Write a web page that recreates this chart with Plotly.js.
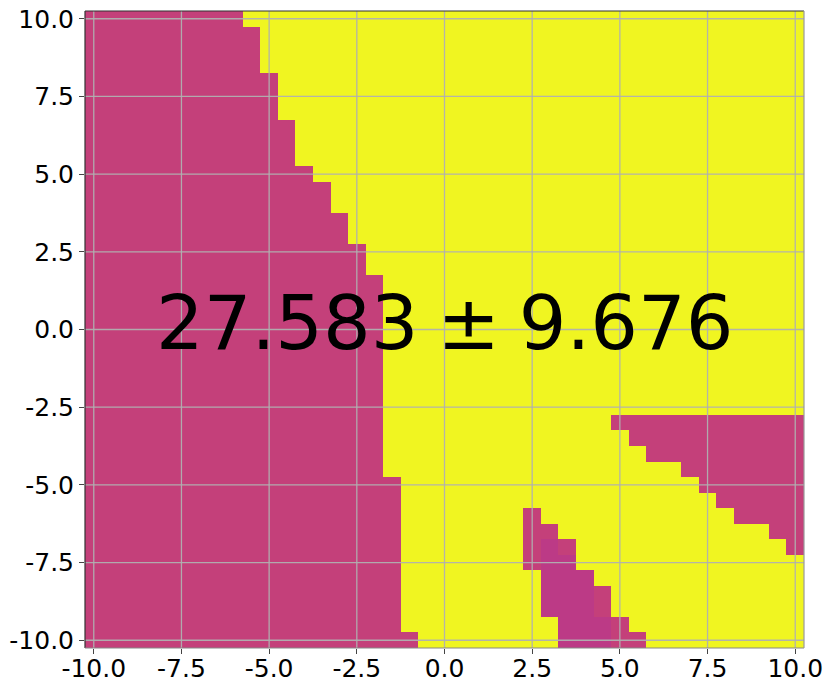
<!DOCTYPE html>
<html>
<head>
<meta charset="utf-8">
<script src="https://cdn.plot.ly/plotly-3.0.1.min.js"></script>
<style>html,body{margin:0;padding:0;background:#fff;}#chart{width:830px;height:690px;}</style>
</head>
<body>
<div id="chart"></div>
<script>
// Cell centres of the grid (x and y share the same grid)
const cellCenters = [-10,-9.5,-9,-8.5,-8,-7.5,-7,-6.5,-6,-5.5,-5,-4.5,-4,-3.5,-3,-2.5,-2,-1.5,-1,-0.5,0,
  0.5,1,1.5,2,2.5,3,3.5,4,4.5,5,5.5,6,6.5,7,7.5,8,8.5,9,9.5,10];

// Rows from top (y=10) to bottom (y=-10)
const rowY = [10,9.5,9,8.5,8,7.5,7,6.5,6,5.5,5,4.5,4,3.5,3,2.5,2,1.5,1,0.5,0,
  -0.5,-1,-1.5,-2,-2.5,-3,-3.5,-4,-4.5,-5,-5.5,-6,-6.5,-7,-7.5,-8,-8.5,-9,-9.5,-10];
// First x (cell centre) of the yellow region on each row; left of it is magenta
const leftYellowStart = [-5.5,-5,-5,-5,-4.5,-4.5,-4.5,-4,-4,-4,-3.5,-3,-3,-2.5,-2.5,-2,-2,
  -1.5,-1.5,-1.5,-1.5,-1.5,-1.5,-1.5,-1.5,-1.5,-1.5,-1.5,-1.5,-1.5,
  -1,-1,-1,-1,-1,-1,-1,-1,-1,-1,-0.5];

// Upper-right magenta patch: rows and first magenta x (extends to right edge)
const patchRows = [-3,-3.5,-4,-4.5,-5,-5.5,-6,-6.5,-7];
const patchStart = [5,5.5,6,7,7.5,8,8.5,9.5,10];

// Lower magenta patch: rows, cell x values and class (1 = magenta, 2 = darker)
const lowerRows = [-6,-6.5,-7,-7.5,-8,-8.5,-9,-9.5,-10];
const lowerCellsX = [[2.5],[2.5,3],[2.5,3,3.5],[2.5,3,3.5],[3,3.5,4],[3,3.5,4,4.5],[3,3.5,4,4.5],[3.5,4,4.5,5],[3.5,4,4.5,5,5.5]];
const lowerClass  = [[1],[1,1],[1,2,1],[1,2,2],[2,2,2],[2,2,2,1],[2,2,2,1],[2,2,2,1],[2,2,2,1,1]];

const tickVals = [-10,-7.5,-5,-2.5,0,2.5,5,7.5,10];
const tickText = ['-10.0','-7.5','-5.0','-2.5','0.0','2.5','5.0','7.5','10.0'];
const annotationText = '27.583\u2005\u00b1\u20059.676';

// Build z matrix (rows ordered by ascending y for Plotly)
const yAsc = cellCenters.slice();
const z = yAsc.map(y => {
  const r = rowY.indexOf(y);
  return cellCenters.map(x => {
    let v = x < leftYellowStart[r] ? 1 : 0;
    const p = patchRows.indexOf(y);
    if (p >= 0 && x >= patchStart[p]) v = 1;
    const l = lowerRows.indexOf(y);
    if (l >= 0) {
      const k = lowerCellsX[l].indexOf(x);
      if (k >= 0) v = lowerClass[l][k];
    }
    return v;
  });
});

const yellow = '#F0F521', pink = '#C4407A', dark = '#BC3A86';
const trace = {
  type: 'heatmap', x: cellCenters, y: yAsc, z: z, zmin: 0, zmax: 2, zsmooth: false,
  colorscale: [[0,yellow],[0.25,yellow],[0.25,pink],[0.75,pink],[0.75,dark],[1,dark]],
  showscale: false, hoverinfo: 'skip'
};

const gridColor = 'rgba(176,176,176,0.95)';
const shapes = [];
tickVals.forEach(v => {
  shapes.push({type:'line', xref:'x', yref:'paper', x0:v, x1:v, y0:0, y1:1, line:{color:gridColor, width:1.3}, layer:'above'});
  shapes.push({type:'line', xref:'paper', yref:'y', x0:0, x1:1, y0:v, y1:v, line:{color:gridColor, width:1.3}, layer:'above'});
});
// frame
shapes.push({type:'line', xref:'paper', yref:'paper', x0:0, x1:1, y0:1, y1:1, line:{color:'#333', width:1.2}, layer:'above'});
shapes.push({type:'line', xref:'paper', yref:'paper', x0:0, x1:0, y0:0, y1:1, line:{color:'#333', width:1.2}, layer:'above'});
shapes.push({type:'line', xref:'paper', yref:'paper', x0:0, x1:1, y0:0, y1:0, line:{color:'#888', width:1.2}, layer:'above'});
shapes.push({type:'line', xref:'paper', yref:'paper', x0:1, x1:1, y0:0, y1:1, line:{color:'#999', width:1.2}, layer:'above'});

const axisCommon = {
  range: [-10.25, 10.25], tickmode: 'array', tickvals: tickVals, ticktext: tickText,
  showgrid: false, zeroline: false, showline: false,
  ticks: 'outside', ticklen: 5, tickwidth: 1, tickcolor: '#444',
  tickfont: {family: 'DejaVu Sans', size: 25, color: '#000'}, fixedrange: true
};

const layout = {
  width: 830, height: 690,
  margin: {l: 85, r: 26, t: 11, b: 42, pad: 0},
  paper_bgcolor: '#fff', plot_bgcolor: '#fff',
  xaxis: Object.assign({}, axisCommon, {ticklabelstandoff: -7}),
  yaxis: Object.assign({}, axisCommon),
  shapes: shapes,
  showlegend: false,
  annotations: [{
    text: annotationText, x: 0, y: 0, xref: 'x', yref: 'y', showarrow: false,
    xanchor: 'center', yanchor: 'middle', yshift: 7,
    font: {family: 'DejaVu Sans', size: 75, color: '#000'}
  }]
};

Plotly.newPlot('chart', [trace], layout, {displayModeBar: false, staticPlot: true});
</script>
</body>
</html>
